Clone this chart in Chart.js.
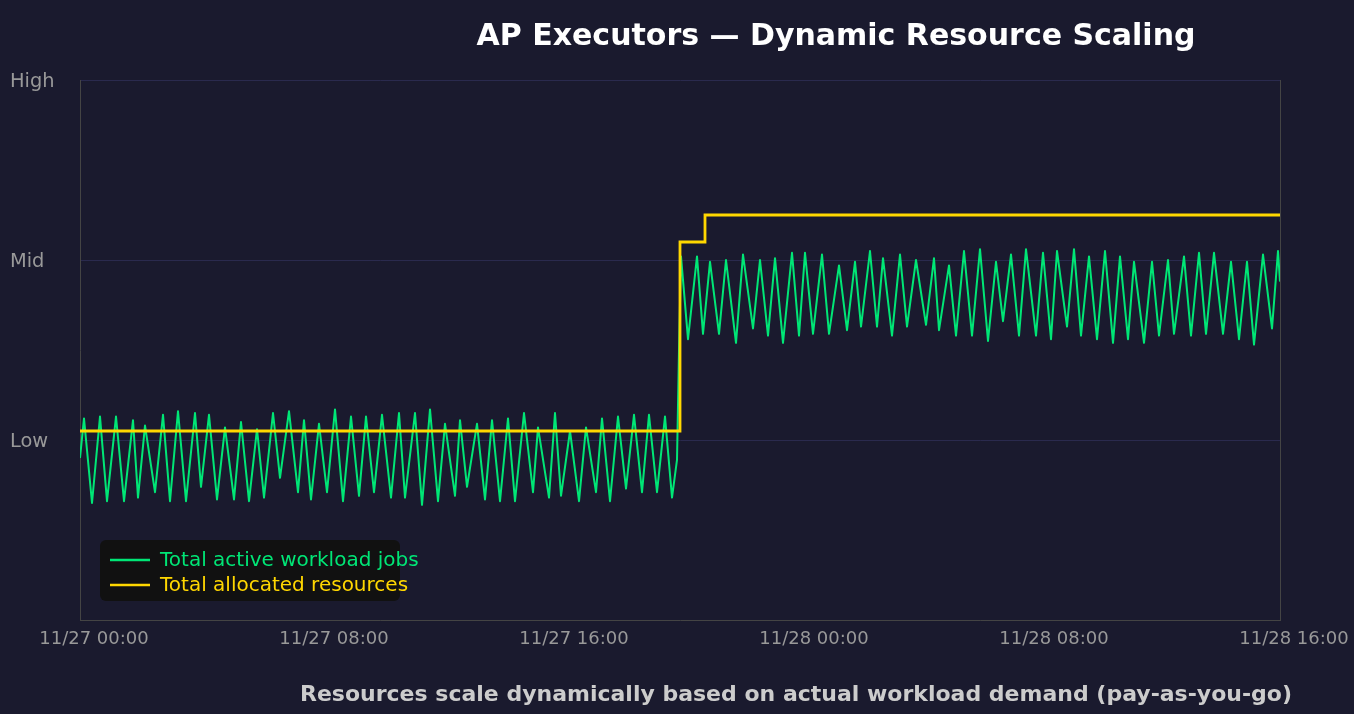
<!DOCTYPE html>
<html>
<head>
<meta charset="utf-8">
<title>AP Executors — Dynamic Resource Scaling</title>
<script src="https://cdn.jsdelivr.net/npm/chart.js@4.4.0/dist/chart.umd.min.js"></script>
<style>
    html, body { margin: 0; padding: 0; background: #1a1a2e; }
    canvas { display: block; }
</style>
</head>
<body>
<canvas id="scaling" width="1354" height="714"></canvas>
<script>
// tick labels
const timeTicks = ['11/27 00:00', '11/27 08:00', '11/27 16:00', '11/28 00:00', '11/28 08:00', '11/28 16:00'];
const levelTicks = ['', 'Low', 'Mid', 'High'];

// active workload jobs: minutes since 11/27 00:00, level (Low = 1, Mid = 2, High = 3)
const jobMinutes = [
    0, 8, 24, 40, 54, 72, 88, 106, 116, 130,
    150, 166, 180, 196, 212, 230, 242, 258, 274, 290,
    308, 322, 338, 354, 368, 386, 400, 418, 436, 448,
    462, 478, 494, 510, 526, 542, 558, 572, 588, 604,
    622, 638, 650, 670, 684, 700, 716, 730, 750, 760,
    774, 794, 810, 824, 840, 856, 870, 888, 906, 916,
    938, 950, 962, 980, 998, 1012, 1032, 1044, 1060, 1076,
    1092, 1108, 1124, 1138, 1154, 1170, 1184, 1194, 1198,
    1202, 1216, 1234, 1246, 1260, 1278, 1292, 1312, 1326, 1346,
    1360, 1376, 1390, 1406, 1424, 1438, 1450, 1466, 1484, 1498,
    1518, 1534, 1550, 1562, 1580, 1594, 1606, 1624, 1640, 1654,
    1672, 1692, 1708, 1718, 1738, 1752, 1768, 1784, 1800, 1816,
    1832, 1846, 1862, 1878, 1892, 1912, 1926, 1942, 1954, 1974,
    1988, 2002, 2018, 2034, 2050, 2066, 2080, 2096, 2108, 2128,
    2144, 2158, 2176, 2188, 2208, 2222, 2238, 2252, 2268, 2286,
    2302, 2318, 2334, 2348, 2366, 2384, 2396, 2400
];
const jobLevels = [
    0.90, 1.12, 0.65, 1.13, 0.66, 1.13, 0.66, 1.11, 0.68, 1.08,
    0.71, 1.14, 0.66, 1.16, 0.66, 1.15, 0.74, 1.14, 0.67, 1.07,
    0.67, 1.10, 0.66, 1.06, 0.68, 1.15, 0.79, 1.16, 0.71, 1.11,
    0.67, 1.09, 0.71, 1.17, 0.66, 1.13, 0.69, 1.13, 0.71, 1.14,
    0.68, 1.15, 0.68, 1.15, 0.64, 1.17, 0.66, 1.09, 0.69, 1.11,
    0.74, 1.09, 0.67, 1.11, 0.66, 1.12, 0.66, 1.15, 0.71, 1.07,
    0.68, 1.15, 0.69, 1.05, 0.66, 1.07, 0.71, 1.12, 0.66, 1.13,
    0.73, 1.14, 0.71, 1.14, 0.71, 1.13, 0.68, 0.89, 1.50,
    2.02, 1.56, 2.02, 1.59, 1.99, 1.59, 2.00, 1.54, 2.03, 1.62,
    2.00, 1.58, 2.01, 1.54, 2.04, 1.58, 2.04, 1.59, 2.03, 1.59,
    1.97, 1.61, 1.99, 1.63, 2.05, 1.63, 2.01, 1.58, 2.03, 1.63,
    2.00, 1.64, 2.01, 1.61, 1.97, 1.58, 2.05, 1.58, 2.06, 1.55,
    1.99, 1.66, 2.03, 1.58, 2.06, 1.58, 2.04, 1.56, 2.05, 1.63,
    2.06, 1.58, 2.02, 1.56, 2.05, 1.54, 2.02, 1.56, 1.99, 1.54,
    1.99, 1.58, 2.00, 1.59, 2.02, 1.58, 2.04, 1.59, 2.04, 1.59,
    1.99, 1.56, 1.99, 1.53, 2.03, 1.62, 2.05, 1.88
];

// allocated resources (step changes)
const allocMinutes = [0, 1200, 1250, 2400];
const allocLevels = [1.05, 2.10, 2.25, 2.25];

const GREEN = '#00e676';
const GOLD = '#ffd700';

const frameLines = {
    id: 'frameLines',
    beforeDatasetsDraw(chart) {
        const { ctx, chartArea } = chart;
        ctx.save();
        ctx.strokeStyle = '#444444';
        ctx.lineWidth = 1;
        ctx.beginPath();
        ctx.moveTo(chartArea.right + 0.5, chartArea.top);
        ctx.lineTo(chartArea.right + 0.5, chartArea.bottom);
        ctx.stroke();
        ctx.restore();
    }
};

const legendBox = {
    id: 'legendBox',
    afterDraw(chart) {
        const { ctx, chartArea } = chart;
        const x = chartArea.left + 20;
        const y = chartArea.bottom - 80;
        ctx.save();
        ctx.fillStyle = '#111111';
        ctx.beginPath();
        ctx.roundRect(x, y, 300, 61, 6);
        ctx.fill();
        ctx.font = '20px "DejaVu Sans"';
        ctx.textBaseline = 'middle';
        ctx.textAlign = 'left';
        chart.data.datasets.forEach((ds, i) => {
            const ly = y + 20 + i * 25;
            ctx.strokeStyle = ds.borderColor;
            ctx.lineWidth = 2.5;
            ctx.beginPath();
            ctx.moveTo(x + 10, ly);
            ctx.lineTo(x + 50, ly);
            ctx.stroke();
            ctx.fillStyle = ds.borderColor;
            ctx.fillText(ds.label, x + 60, ly + 1);
        });
        ctx.restore();
    }
};

const headings = {
    id: 'headings',
    afterDraw(chart) {
        const { ctx } = chart;
        ctx.save();
        ctx.textAlign = 'center';
        ctx.textBaseline = 'middle';
        ctx.fillStyle = '#ffffff';
        ctx.font = 'bold 30px "DejaVu Sans"';
        ctx.fillText('AP Executors — Dynamic Resource Scaling', 836, 37);
        ctx.fillStyle = '#cccccc';
        ctx.font = 'bold 22px "DejaVu Sans"';
        ctx.fillText('Resources scale dynamically based on actual workload demand (pay-as-you-go)', 796, 695);
        ctx.restore();
    }
};

const ctx = document.getElementById('scaling').getContext('2d');
new Chart(ctx, {
    type: 'line',
    data: {
        datasets: [
            {
                label: 'Total active workload jobs',
                data: jobMinutes.map((t, i) => ({ x: t, y: jobLevels[i] })),
                borderColor: GREEN,
                borderWidth: 2,
                pointRadius: 0,
                tension: 0,
                borderJoinStyle: 'round',
                order: 1
            },
            {
                label: 'Total allocated resources',
                data: allocMinutes.map((t, i) => ({ x: t, y: allocLevels[i] })),
                borderColor: GOLD,
                borderWidth: 2.8,
                pointRadius: 0,
                stepped: true,
                order: 0
            }
        ]
    },
    options: {
        responsive: false,
        animation: false,
        layout: { padding: { left: 10, top: 80, right: 74, bottom: 0 } },
        plugins: {
            legend: { display: false },
            tooltip: { enabled: false }
        },
        scales: {
            x: {
                type: 'linear',
                min: 0,
                max: 2400,
                grid: { color: 'rgba(0,0,0,0)', drawTicks: false },
                border: { color: '#444444', width: 1 },
                ticks: {
                    stepSize: 480,
                    autoSkip: false,
                    maxRotation: 0,
                    padding: 9,
                    labelOffset: 14,
                    color: '#999999',
                    font: { family: 'DejaVu Sans', size: 18 },
                    callback: (value, index) => timeTicks[index]
                },
                afterFit(scale) {
                    scale.height = 94;
                    scale.paddingLeft = 0;
                    scale.paddingRight = 0;
                }
            },
            y: {
                min: 0,
                max: 3,
                grid: {
                    color: c => (c.tick && c.tick.value === 0 ? 'rgba(0,0,0,0)' : '#2a2a4e'),
                    drawTicks: false
                },
                border: { color: '#444444', width: 1 },
                ticks: {
                    stepSize: 1,
                    crossAlign: 'far',
                    labelOffset: 2,
                    color: '#999999',
                    font: { family: 'DejaVu Sans', size: 19.4 },
                    callback: value => levelTicks[value]
                },
                afterFit(scale) {
                    scale.width = 70;
                    scale.paddingTop = 0;
                    scale.paddingBottom = 0;
                }
            }
        }
    },
    plugins: [frameLines, legendBox, headings]
});
</script>
</body>
</html>
